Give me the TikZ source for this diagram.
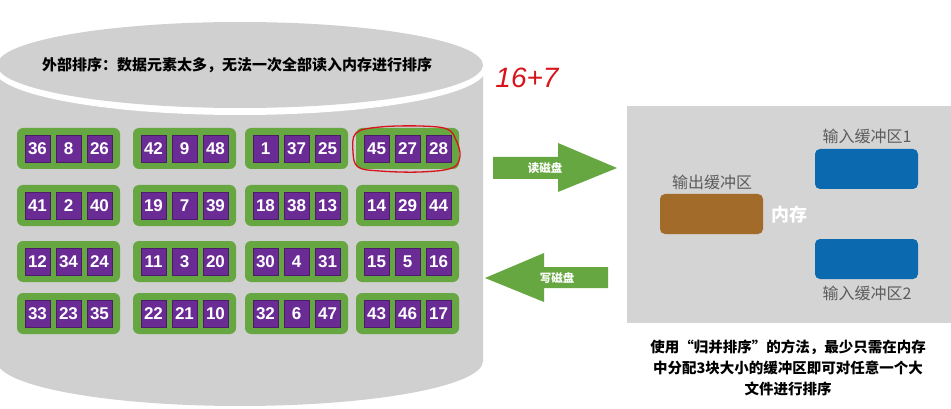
\documentclass[tikz,border=0pt]{standalone}
\usepackage{fontspec}
\setmainfont{Liberation Sans}
\newfontfamily\cjk{Noto Sans CJK SC}
\newfontfamily\numf{Liberation Sans}
\definecolor{cylgray}{HTML}{D0D0D0}
\definecolor{memgray}{HTML}{D4D4D4}
\definecolor{grn}{HTML}{67A742}
\definecolor{purp}{HTML}{6A2C94}
\definecolor{purpdk}{HTML}{4A1D6A}
\definecolor{brn}{HTML}{A36B2A}
\definecolor{blu}{HTML}{0B69AF}
\definecolor{lblgray}{HTML}{5C5C5C}
\definecolor{inkred}{HTML}{D8141B}
\newcommand\grp[6]{%
  \node[grp] (#1) at (#2+51.5,#3+20.5) {};
  \node[sq] (#1a) at (#2+20.5,#3+20.5) {#4};
  \node[sq] (#1b) at (#2+51.5,#3+20.5) {#5};
  \node[sq] (#1c) at (#2+82.5,#3+20.5) {#6};
}
\begin{document}
\begin{tikzpicture}[x=1pt,y=-1pt,
  grp/.style={rectangle,rounded corners=6,fill=grn,minimum width=103,minimum height=41,inner sep=0},
  sq/.style={rectangle,fill=purp,draw=purpdk,line width=0.6,minimum width=25,minimum height=27,inner sep=0,text=white,font=\numf\bfseries\fontsize{17}{17}\selectfont},
  buf/.style={rectangle,rounded corners=5,minimum width=103,minimum height=40,inner sep=0},
  lbl/.style={text=lblgray,font=\cjk\fontsize{16}{16}\selectfont,inner sep=0},
  arrowtxt/.style={text=white,font=\cjk\bfseries\fontsize{11.5}{11.5}\selectfont,inner sep=0},
  bigarrow/.style={fill=grn}
]
\useasboundingbox (0,0) rectangle (951,409);
% cylinder body
\fill[cylgray] (-3,65) -- (-3,361) arc[start angle=180,end angle=0,x radius=243,y radius=45] -- (483,65) -- cycle;
% white gap and top ellipse
\fill[white] (240,69) ellipse[x radius=246,y radius=46];
\fill[cylgray] (240,65) ellipse[x radius=243,y radius=43];
\node[font=\cjk\bfseries\fontsize{15}{15}\selectfont,inner sep=0] (title) at (237,65) {外部排序：数据元素太多，无法一次全部读入内存进行排序};
% groups
\grp{g11}{17}{128}{36}{8}{26}
\grp{g12}{133}{128}{42}{9}{48}
\grp{g13}{245}{128}{1}{37}{25}
\grp{g14}{356}{128}{45}{27}{28}
\grp{g21}{17}{185}{41}{2}{40}
\grp{g22}{133}{185}{19}{7}{39}
\grp{g23}{245}{185}{18}{38}{13}
\grp{g24}{356}{185}{14}{29}{44}
\grp{g31}{17}{241}{12}{34}{24}
\grp{g32}{133}{241}{11}{3}{20}
\grp{g33}{245}{241}{30}{4}{31}
\grp{g34}{356}{241}{15}{5}{16}
\grp{g41}{17}{293}{33}{23}{35}
\grp{g42}{133}{293}{22}{21}{10}
\grp{g43}{245}{293}{32}{6}{47}
\grp{g44}{356}{293}{43}{46}{17}
% red hand annotation
\draw[inkred,line width=1.3] plot[smooth cycle,tension=0.6] coordinates {(356,133) (380,127) (420,126) (447,129) (456,140) (460,156) (452,168) (420,172) (380,171) (358,167) (353,152)};
\node[text=inkred,font=\itshape\fontsize{28}{28}\selectfont,inner sep=0] (note) at (527,78) {16+7};
% arrows
\fill[bigarrow] (493,157) -- (558,157) -- (558,143) -- (617,168) -- (558,192) -- (558,179) -- (493,179) -- cycle;
\node[arrowtxt] (rd) at (545,168) {读磁盘};
\fill[bigarrow] (485,278) -- (544,253) -- (544,267) -- (608,267) -- (608,288) -- (544,288) -- (544,302) -- cycle;
\node[arrowtxt] (wr) at (557,278) {写磁盘};
% memory
\fill[memgray] (627,106) rectangle (951,323);
\node[buf,fill=brn] (out) at (711.5,214) {};
\node[lbl] (outl) at (712,182) {输出缓冲区};
\node[text=white,font=\cjk\bfseries\fontsize{18}{18}\selectfont,inner sep=0] (mem) at (789,215) {内存};
\node[buf,fill=blu] (in1) at (866.5,169) {};
\node[lbl] (in1l) at (867,136) {输入缓冲区1};
\node[buf,fill=blu] (in2) at (866.5,259) {};
\node[lbl] (in2l) at (867,293) {输入缓冲区2};
\node[align=center,font=\cjk\bfseries\fontsize{14.5}{21}\selectfont,inner sep=0] (desc) at (788,368) {使用“归并排序”的方法，最少只需在内存\\中分配3块大小的缓冲区即可对任意一个大\\文件进行排序};
\end{tikzpicture}
\end{document}
